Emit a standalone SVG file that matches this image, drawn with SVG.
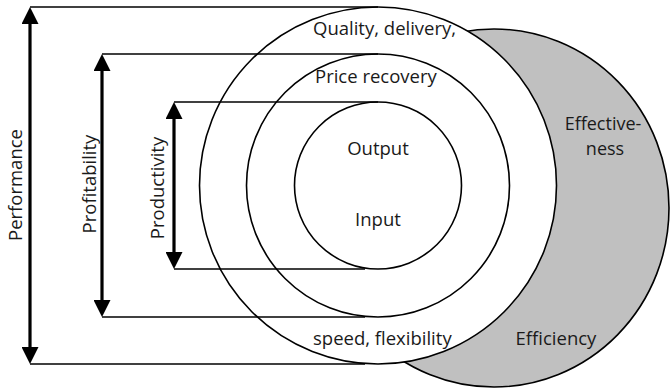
<svg xmlns="http://www.w3.org/2000/svg" width="670" height="388" viewBox="0 0 670 388">
<style>
.ring{fill:#fff;stroke:#000;stroke-width:1.6}
.gray{fill:#c0c0c0;stroke:#000;stroke-width:1.6}
.h{stroke:#000;stroke-width:1.6;fill:none}
.v{stroke:#000;stroke-width:3.2;fill:none}
text{font-family:"Open Sans","Noto Sans","DejaVu Sans",sans-serif;font-size:18.5px;fill:#1a1a1a}
.eff{font-size:18px}
</style>
<defs>
<marker id="ah" viewBox="0 0 17 17" markerWidth="17" markerHeight="17" refX="7" refY="8.5" markerUnits="userSpaceOnUse" orient="auto-start-reverse">
<path d="M0,0 L17,8.5 L0,17 z" fill="#000"/>
</marker>
</defs>
<g id="efficiency-effectiveness">
<ellipse class="gray" cx="494" cy="208" rx="175" ry="179"/>
<text class="eff" x="603" y="129.5" text-anchor="middle">Effective-</text>
<text class="eff" x="605" y="154.5" text-anchor="middle">ness</text>
<text x="556" y="345" text-anchor="middle">Efficiency</text>
</g>
<g id="performance-ring">
<circle class="ring" cx="378" cy="185.5" r="178.5"/>
</g>
<g id="profitability-ring">
<circle class="ring" cx="378" cy="185.5" r="131.5"/>
</g>
<g id="productivity-ring">
<circle class="ring" cx="378" cy="185.5" r="83.5"/>
</g>
<g id="connectors">
<line class="h" x1="30" y1="7" x2="378" y2="7"/>
<line class="h" x1="30" y1="364" x2="365" y2="364"/>
<line class="h" x1="102" y1="54" x2="378" y2="54"/>
<line class="h" x1="102" y1="317" x2="365" y2="317"/>
<line class="h" x1="174" y1="102" x2="378" y2="102"/>
<line class="h" x1="174" y1="269" x2="365" y2="269"/>
<line class="v" x1="30" y1="17" x2="30" y2="354" marker-start="url(#ah)" marker-end="url(#ah)"/>
<line class="v" x1="102" y1="64" x2="102" y2="307" marker-start="url(#ah)" marker-end="url(#ah)"/>
<line class="v" x1="174" y1="112" x2="174" y2="259" marker-start="url(#ah)" marker-end="url(#ah)"/>
</g>
<g id="labels">
<text x="313" y="35">Quality, delivery,</text>
<text x="315" y="83">Price recovery</text>
<text x="378" y="155" text-anchor="middle">Output</text>
<text x="378" y="226" text-anchor="middle">Input</text>
<text x="313" y="345">speed, flexibility</text>
<text transform="translate(21.5,185) rotate(-90)" text-anchor="middle">Performance</text>
<text transform="translate(96,184) rotate(-90)" text-anchor="middle">Profitability</text>
<text transform="translate(164,188) rotate(-90)" text-anchor="middle">Productivity</text>
</g>
</svg>
